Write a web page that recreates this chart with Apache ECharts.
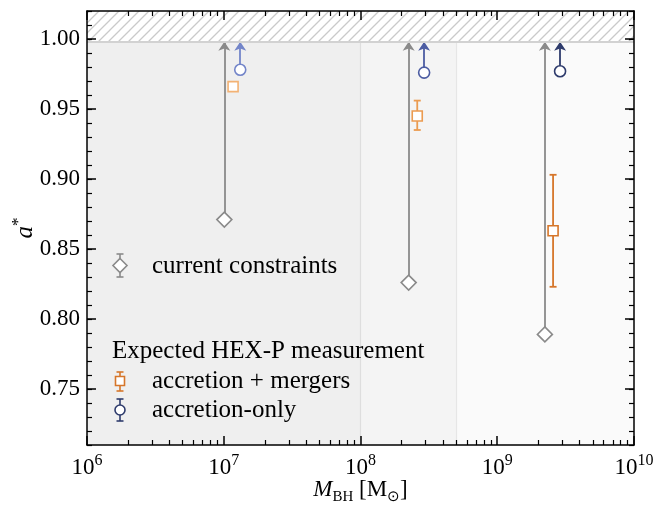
<!DOCTYPE html>
<html><head><meta charset="utf-8">
<script src="https://cdn.jsdelivr.net/npm/echarts@6/dist/echarts.min.js"></script>
<style>html,body{margin:0;padding:0;background:#fff}#c{width:654px;height:507px}</style>
</head><body><div id="c"></div>
<script>
// ---------- data ----------
const xMajorTicks = [1e6, 1e7, 1e8, 1e9, 1e10];
const xMinorTicks = [2e6,3e6,4e6,5e6,6e6,7e6,8e6,9e6,
                     2e7,3e7,4e7,5e7,6e7,7e7,8e7,9e7,
                     2e8,3e8,4e8,5e8,6e8,7e8,8e8,9e8,
                     2e9,3e9,4e9,5e9,6e9,7e9,8e9,9e9];
const yMajorTicks = [0.75, 0.80, 0.85, 0.90, 0.95, 1.00];
const yMinorTicks = [0.71,0.72,0.73,0.74,0.75,0.76,0.77,0.78,0.79,0.80,
                     0.81,0.82,0.83,0.84,0.85,0.86,0.87,0.88,0.89,0.90,
                     0.91,0.92,0.93,0.94,0.95,0.96,0.97,0.98,0.99,1.00,1.01,1.02];
const spinLimit = 0.998;
const regionEdges = [1e6, 1e8, 5e8, 1e10];

const currentMass = [1.01e7, 2.25e8, 2.23e9];
const currentSpin = [0.871, 0.826, 0.789];

const mergersMass = [1.17e7, 2.60e8, 2.56e9];
const mergersSpin = [0.966, 0.945, 0.863];
const mergersLow  = [0.964, 0.935, 0.823];
const mergersHigh = [0.968, 0.956, 0.903];

const accretionMass = [1.32e7, 2.92e8, 2.88e9];
const accretionSpin = [0.978, 0.976, 0.977];

// ---------- styles ----------
const FONT = 'Liberation Serif';
const LEGFONT = '25px "Liberation Serif"';
const grayC = '#8a8a8a';
const regionColors = ['#efefef', '#f4f4f4', '#fafafa'];
const mergersColors = ['#f3b274', '#eb9b50', '#d6762a'];
const accretionColors = ['#7385c9', '#4c5ca2', '#2e3b6c'];

// hatch pattern
const pc = document.createElement('canvas');
pc.width = 10; pc.height = 10;
const g = pc.getContext('2d');
g.fillStyle = '#ffffff'; g.fillRect(0, 0, 10, 10);
g.strokeStyle = '#cacaca'; g.lineWidth = 1.3;
g.beginPath();
g.moveTo(-1, 11); g.lineTo(11, -1);
g.moveTo(-6, 6); g.lineTo(6, -6);
g.moveTo(4, 16); g.lineTo(16, 4);
g.stroke();

const chart = echarts.init(document.getElementById('c'), null, {renderer: 'canvas'});

function xAxisDef(pos, major) {
  return {
    type: 'log', logBase: 10, min: 1e6, max: 1e10, position: pos, z: 20,
    axisLine: {show: major, onZero: false, lineStyle: {color: '#000', width: 1.5}},
    axisTick: {show: true, inside: true, length: major ? 9 : 5,
      customValues: major ? xMajorTicks : xMinorTicks,
      lineStyle: {color: '#000', width: major ? 1.5 : 1.2}},
    axisLabel: (pos === 'bottom' && major) ? {
      show: true, customValues: xMajorTicks, margin: 8,
      formatter: v => '{b|10}{s|' + Math.round(Math.log10(v)) + '}',
      rich: {
        b: {fontFamily: FONT, fontSize: 23, color: '#000', lineHeight: 30},
        s: {fontFamily: FONT, fontSize: 16, color: '#000', lineHeight: 18, verticalAlign: 'top'}
      }
    } : {show: false},
    splitLine: {show: false}, minorTick: {show: false},
    name: (pos === 'bottom' && major) ? '{i|M}{sub|BH}{n| [M}{sub2|⊙}{n|]}' : '',
    nameLocation: 'middle', nameGap: 30, nameMoveOverlap: false,
    nameTextStyle: {
      rich: {
        i: {fontFamily: FONT, fontStyle: 'italic', fontSize: 23, color: '#000', lineHeight: 30},
        sub: {fontFamily: FONT, fontSize: 15, color: '#000', lineHeight: 16, verticalAlign: 'bottom'},
        n: {fontFamily: FONT, fontSize: 23, color: '#000', lineHeight: 30},
        sub2: {fontFamily: FONT, fontSize: 15, color: '#000', lineHeight: 16, verticalAlign: 'bottom'}
      }
    }
  };
}
function yAxisDef(pos, major) {
  return {
    type: 'value', min: 0.71, max: 1.02, position: pos, z: 20,
    axisLine: {show: major, onZero: false, lineStyle: {color: '#000', width: 1.5}},
    axisTick: {show: true, inside: true, length: major ? 9 : 5,
      customValues: major ? yMajorTicks : yMinorTicks,
      lineStyle: {color: '#000', width: major ? 1.5 : 1.2}},
    axisLabel: (pos === 'left' && major) ? {
      show: true, customValues: yMajorTicks, margin: 7,
      formatter: v => v.toFixed(2),
      fontFamily: FONT, fontSize: 23, color: '#000'
    } : {show: false},
    splitLine: {show: false},
    name: (pos === 'left' && major) ? '{i|a}{s|*}' : '',
    nameLocation: 'middle', nameGap: 47, nameRotate: 90, nameMoveOverlap: false,
    nameTextStyle: {
      rich: {
        i: {fontFamily: FONT, fontStyle: 'italic', fontSize: 25, color: '#000', lineHeight: 30},
        s: {fontFamily: FONT, fontSize: 17, color: '#000', lineHeight: 16, verticalAlign: 'top'}
      }
    }
  };
}

const regionAreas = [];
for (let i = 0; i < regionColors.length; i++) {
  regionAreas.push([
    {xAxis: regionEdges[i], yAxis: 0.71, itemStyle: {color: regionColors[i]}},
    {xAxis: regionEdges[i + 1], yAxis: spinLimit}
  ]);
}

const arrowData = [];
currentMass.forEach((m, i) => arrowData.push({coords: [[m, currentSpin[i]], [m, spinLimit]],
  lineStyle: {color: grayC}}));
accretionMass.forEach((m, i) => arrowData.push({coords: [[m, accretionSpin[i]], [m, spinLimit]],
  lineStyle: {color: accretionColors[i]}}));

const option = {
  animation: false,
  backgroundColor: '#fff',
  grid: {left: 87, right: 20, top: 11, bottom: 62, containLabel: false, outerBoundsMode: 'none'},
  xAxis: [xAxisDef('bottom', true), xAxisDef('bottom', false), xAxisDef('top', true), xAxisDef('top', false)],
  yAxis: [yAxisDef('left', true), yAxisDef('left', false), yAxisDef('right', true), yAxisDef('right', false)],
  series: [
    {
      type: 'line', data: [], z: 0, silent: true,
      markArea: {silent: true, data: regionAreas.concat([[
        {xAxis: 1e6, yAxis: spinLimit, itemStyle: {color: {image: pc, repeat: 'repeat'}}},
        {xAxis: 1e10, yAxis: 1.02}
      ]])},
      markLine: {silent: true, symbol: 'none', label: {show: false},
        data: [
          [{coord: [1e8, 0.71], lineStyle: {color: '#dedede', width: 1.2, type: 'solid'}}, {coord: [1e8, spinLimit]}],
          [{coord: [5e8, 0.71], lineStyle: {color: '#e6e6e6', width: 1.2, type: 'solid'}}, {coord: [5e8, spinLimit]}],
          [{coord: [1e6, spinLimit], lineStyle: {color: '#d2d2d2', width: 2, type: 'solid'}}, {coord: [1e10, spinLimit]}]
        ]}
    },
    {
      type: 'lines', coordinateSystem: 'cartesian2d', z: 3,
      symbol: ['none', 'arrow'], symbolSize: [8, 9],
      lineStyle: {width: 1.8, opacity: 1, curveness: 0},
      data: arrowData
    },
    {
      type: 'custom', z: 4,
      data: mergersMass.map((m, i) => [m, mergersLow[i], mergersHigh[i]]),
      renderItem: function (params, api) {
        const x = api.value(0);
        const p1 = api.coord([x, api.value(1)]);
        const p2 = api.coord([x, api.value(2)]);
        const c = mergersColors[params.dataIndex];
        const st = {stroke: c, lineWidth: 1.8};
        return {type: 'group', children: [
          {type: 'line', shape: {x1: p1[0], y1: p1[1], x2: p2[0], y2: p2[1]}, style: st},
          {type: 'line', shape: {x1: p1[0] - 3.5, y1: p1[1], x2: p1[0] + 3.5, y2: p1[1]}, style: st},
          {type: 'line', shape: {x1: p2[0] - 3.5, y1: p2[1], x2: p2[0] + 3.5, y2: p2[1]}, style: st}
        ]};
      }
    },
    {
      type: 'scatter', z: 5, symbol: 'diamond', symbolSize: 15,
      itemStyle: {color: '#fff', borderColor: grayC, borderWidth: 1.6, opacity: 1},
      data: currentMass.map((m, i) => [m, currentSpin[i]])
    },
    {
      type: 'scatter', z: 5, symbol: 'rect', symbolSize: 10,
      data: mergersMass.map((m, i) => ({value: [m, mergersSpin[i]],
        itemStyle: {color: '#fff', borderColor: mergersColors[i], borderWidth: 1.6, opacity: 1}}))
    },
    {
      type: 'scatter', z: 5, symbol: 'circle', symbolSize: 11,
      data: accretionMass.map((m, i) => ({value: [m, accretionSpin[i]],
        itemStyle: {color: '#fff', borderColor: accretionColors[i], borderWidth: 1.6, opacity: 1}}))
    }
  ],
  graphic: [
    // current constraints
    {type: 'line', shape: {x1: 120, y1: 254, x2: 120, y2: 277}, style: {stroke: grayC, lineWidth: 1.6}, z: 10},
    {type: 'line', shape: {x1: 116.5, y1: 254, x2: 123.5, y2: 254}, style: {stroke: grayC, lineWidth: 1.6}, z: 10},
    {type: 'line', shape: {x1: 116.5, y1: 277, x2: 123.5, y2: 277}, style: {stroke: grayC, lineWidth: 1.6}, z: 10},
    {type: 'polygon', shape: {points: [[120, 258.5], [127, 265.5], [120, 272.5], [113, 265.5]]},
      style: {fill: '#fff', stroke: grayC, lineWidth: 1.6}, z: 11},
    {type: 'text', x: 152, y: 266, z: 11, style: {text: 'current constraints', font: LEGFONT, fill: '#000', verticalAlign: 'middle'}},
    // heading
    {type: 'text', x: 112, y: 351, z: 11, style: {text: 'Expected HEX-P measurement', font: LEGFONT, fill: '#000', verticalAlign: 'middle'}},
    // accretion + mergers
    {type: 'line', shape: {x1: 120, y1: 372, x2: 120, y2: 391}, style: {stroke: '#d6762a', lineWidth: 1.6}, z: 10},
    {type: 'line', shape: {x1: 116.5, y1: 372, x2: 123.5, y2: 372}, style: {stroke: '#d6762a', lineWidth: 1.6}, z: 10},
    {type: 'line', shape: {x1: 116.5, y1: 391, x2: 123.5, y2: 391}, style: {stroke: '#d6762a', lineWidth: 1.6}, z: 10},
    {type: 'rect', shape: {x: 115.5, y: 376.5, width: 9, height: 9}, style: {fill: '#fff', stroke: '#d6762a', lineWidth: 1.6}, z: 11},
    {type: 'text', x: 152, y: 381, z: 11, style: {text: 'accretion + mergers', font: LEGFONT, fill: '#000', verticalAlign: 'middle'}},
    // accretion-only
    {type: 'line', shape: {x1: 120, y1: 399, x2: 120, y2: 421}, style: {stroke: '#2e3b6c', lineWidth: 1.6}, z: 10},
    {type: 'line', shape: {x1: 116.5, y1: 399, x2: 123.5, y2: 399}, style: {stroke: '#2e3b6c', lineWidth: 1.6}, z: 10},
    {type: 'line', shape: {x1: 116.5, y1: 421, x2: 123.5, y2: 421}, style: {stroke: '#2e3b6c', lineWidth: 1.6}, z: 10},
    {type: 'circle', shape: {cx: 120, cy: 410, r: 5}, style: {fill: '#fff', stroke: '#2e3b6c', lineWidth: 1.6}, z: 11},
    {type: 'text', x: 152, y: 410, z: 11, style: {text: 'accretion-only', font: LEGFONT, fill: '#000', verticalAlign: 'middle'}}
  ]
};
chart.setOption(option);
</script>
</body></html>
